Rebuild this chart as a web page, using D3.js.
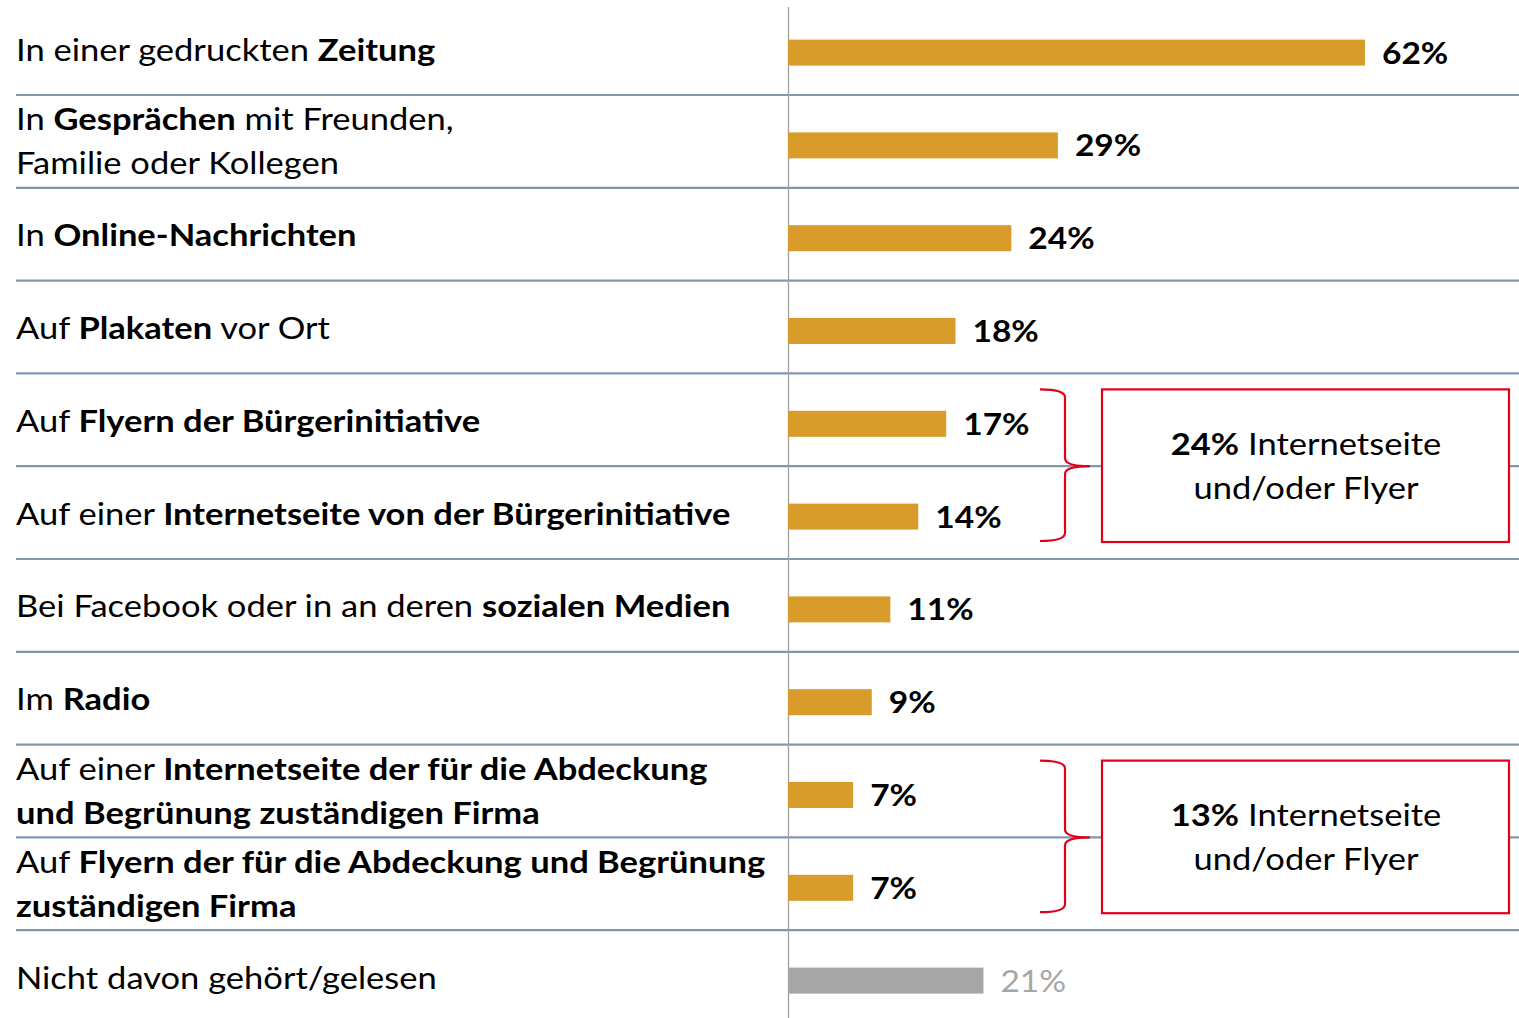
<!DOCTYPE html>
<html><head><meta charset="utf-8">
<script src="https://cdn.jsdelivr.net/npm/d3@7"></script>
<style>body{margin:0;background:#fff;} svg{display:block;font-family:Lato,"Open Sans",sans-serif;}</style>
</head><body>
<svg id="c" width="1519" height="1018"></svg>
<script>
const categories = ["zeitung","gespraeche","online","plakate","flyerBI","webBI","social","radio","webFirma","flyerFirma","nicht"];
const values = [62,29,24,18,17,14,11,9,7,7,21];
const valueLabels = ["62%","29%","24%","18%","17%","14%","11%","9%","7%","7%","21%"];
// label lines: each line is a list of [text, bold]
const labelLines = [
  [[["In einer gedruckten ",0],["Zeitung",1]]],
  [[["In ",0],["Gesprächen",1],[" mit Freunden,",0]],[["Familie oder Kollegen",0]]],
  [[["In ",0],["Online-Nachrichten",1]]],
  [[["Auf ",0],["Plakaten",1],[" vor Ort",0]]],
  [[["Auf ",0],["Flyern der Bürgerinitiative",1]]],
  [[["Auf einer ",0],["Internetseite von der Bürgerinitiative",1]]],
  [[["Bei Facebook oder in an deren ",0],["sozialen Medien",1]]],
  [[["Im ",0],["Radio",1]]],
  [[["Auf einer ",0],["Internetseite der für die Abdeckung",1]],[["und Begrünung zuständigen Firma",1]]],
  [[["Auf ",0],["Flyern der für die Abdeckung und Begrünung",1]],[["zuständigen Firma",1]]],
  [[["Nicht davon gehört/gelesen",0]]]
];
const groupFrom = [4,8];
const groupTo = [5,9];
const groupValue = ["24%","13%"];
const groupLine1 = [" Internetseite"," Internetseite"];
const groupLine2 = ["und/oder Flyer","und/oder Flyer"];

(function(){
const svg = d3.select("#c");
const rowH = 92.8, y0 = 2.2;
const y = d3.scaleBand().domain(categories).range([y0, y0 + categories.length*rowH]).padding(0);
const x = d3.scaleLinear().domain([0,62]).range([788,1365]);
const barColor = "#d99c2b", grayColor = "#a6a6a6", sepColor = "#8497b0";
const FS = 30;

// separators
svg.append("g").selectAll("line").data(categories.slice(0,-1)).join("line")
  .attr("x1",16).attr("x2",1519)
  .attr("y1",d=>y(d)+y.bandwidth()).attr("y2",d=>y(d)+y.bandwidth())
  .attr("stroke",sepColor).attr("stroke-width",2.2);

// axis line
svg.append("line").attr("x1",788.5).attr("x2",788.5).attr("y1",7).attr("y2",1018)
  .attr("stroke","#a0a0a0").attr("stroke-width",1.3);

// bars
const isGray = (i)=> i===categories.length-1;
svg.append("g").selectAll("rect").data(values).join("rect")
  .attr("x",x(0)).attr("width",d=>x(d)-x(0))
  .attr("y",(d,i)=>y(categories[i])+y.bandwidth()/2+4-13).attr("height",26)
  .attr("fill",(d,i)=>isGray(i)?grayColor:barColor);

// measure scale factor for Calibri-like width
const probe = svg.append("text").attr("font-size",FS).style("visibility","hidden");
labelLines[5][0].forEach(s=>probe.append("tspan").attr("font-weight",s[1]?700:400).text(s[0]));
const kx = 0.99 * 722 / probe.node().getComputedTextLength();
probe.remove();

// value labels
svg.append("g").selectAll("text").data(values).join("text")
  .attr("transform",(d,i)=>`translate(${x(d)+17},${y(categories[i])+y.bandwidth()/2+4+11}) scale(${kx*0.97},1)`)
  .attr("font-size",FS).attr("font-weight",(d,i)=>isGray(i)?400:700)
  .attr("fill",(d,i)=>isGray(i)?grayColor:"#000")
  .text((d,i)=>valueLabels[i]);

// category labels
labelLines.forEach((lines,i)=>{
  const cy = y(categories[i]) + y.bandwidth()/2;
  const n = lines.length;
  lines.forEach((segs,j)=>{
    const ly = n===1 ? cy+1 : cy + (j===0 ? -22 : 22);
    const t = svg.append("text").attr("font-size",FS)
      .attr("transform",`translate(16,${ly+11}) scale(${kx},1)`).attr("fill","#000");
    segs.forEach(s=>t.append("tspan").attr("font-weight",s[1]?700:400).text(s[0]));
  });
});

// braces + boxes
const red = "#e0001b";
groupFrom.forEach((f,g)=>{
  const t = groupTo[g];
  const mid = y(categories[t]);
  const y1 = y(categories[f]) + 16, y2 = y(categories[t]) + y.bandwidth() - 18;
  const x0 = 1040, x1 = 1065, x2 = 1090, r = 8;
  const p = `M${x0},${y1} Q${x1},${y1} ${x1},${y1+r} L${x1},${mid-r} Q${x1},${mid} ${x2},${mid} Q${x1},${mid} ${x1},${mid+r} L${x1},${y2-r} Q${x1},${y2} ${x0},${y2}`;
  svg.append("path").attr("d",p).attr("fill","none").attr("stroke",red).attr("stroke-width",2.2);
  const by1 = y(categories[f]) + 16, by2 = y(categories[t]) + y.bandwidth() - 17;
  svg.append("rect").attr("x",1102).attr("y",by1).attr("width",407).attr("height",by2-by1)
    .attr("fill","#fff").attr("stroke",red).attr("stroke-width",2.2);
  const cx = 1306, cy = (by1+by2)/2;
  const t1 = svg.append("text").attr("font-size",FS).attr("text-anchor","middle")
    .attr("transform",`translate(${cx},${cy-22+11}) scale(${kx},1)`);
  t1.append("tspan").attr("font-weight",700).text(groupValue[g]);
  t1.append("tspan").attr("font-weight",400).text(groupLine1[g]);
  svg.append("text").attr("font-size",FS).attr("text-anchor","middle")
    .attr("transform",`translate(${cx},${cy+22+11}) scale(${kx},1)`).text(groupLine2[g]);
});
})();
</script>
</body></html>
